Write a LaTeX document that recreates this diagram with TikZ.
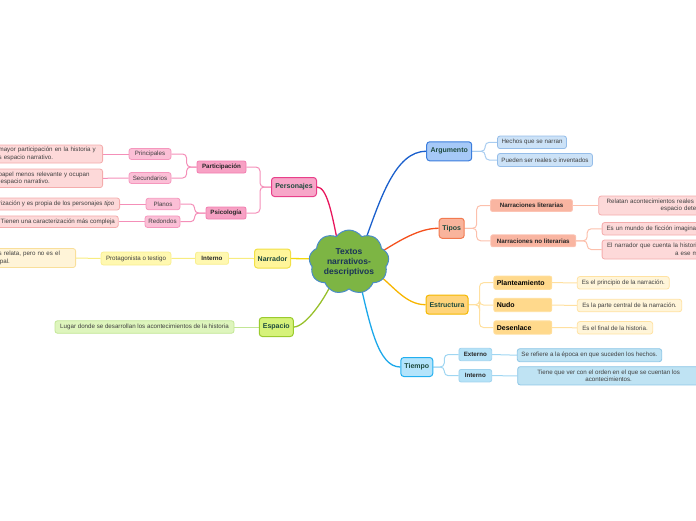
\documentclass[tikz,border=0pt]{standalone}
\usepackage{fontspec}
\setmainfont{Liberation Sans}
\usetikzlibrary{shapes.symbols,backgrounds}

% colours of the map
\definecolor{cloudfill}{HTML}{7DB544}
\definecolor{cloudedge}{HTML}{4A8CC8}
\definecolor{cloudtext}{HTML}{1A3358}
\definecolor{topictext}{HTML}{1D4A3D}
\definecolor{perfill}{HTML}{F7A6C8}
\definecolor{peredge}{HTML}{E8408A}
\definecolor{perline}{HTML}{E8175D}
\definecolor{pksub}{HTML}{F7A1C4}
\definecolor{pksubedge}{HTML}{F27DB0}
\definecolor{pkleaf}{HTML}{FBBFD6}
\definecolor{pkleafedge}{HTML}{F597BD}
\definecolor{pktwig}{HTML}{F48FB8}
\definecolor{pknote}{HTML}{FDD9D9}
\definecolor{pknoteedge}{HTML}{F4ACAC}
\definecolor{narfill}{HTML}{FFF59A}
\definecolor{naredge}{HTML}{F2E046}
\definecolor{narline}{HTML}{F2D80A}
\definecolor{amsub}{HTML}{FFF8B0}
\definecolor{amsubedge}{HTML}{F9EF90}
\definecolor{amtwig}{HTML}{F8EC80}
\definecolor{cream}{HTML}{FFF4D8}
\definecolor{creamedge}{HTML}{F9DF9A}
\definecolor{espfill}{HTML}{D6F27A}
\definecolor{espedge}{HTML}{9BCB2E}
\definecolor{espline}{HTML}{97C02A}
\definecolor{verdeleaf}{HTML}{DEF5BD}
\definecolor{verdeedge}{HTML}{C2E695}
\definecolor{argfill}{HTML}{A6C9F7}
\definecolor{argedge}{HTML}{3B7DDD}
\definecolor{argline}{HTML}{1A5FCC}
\definecolor{azleaf}{HTML}{CCE2F7}
\definecolor{azleafedge}{HTML}{95BDE9}
\definecolor{aztwig}{HTML}{A8CCF0}
\definecolor{tipfill}{HTML}{F9B49C}
\definecolor{tipedge}{HTML}{F27A50}
\definecolor{tipline}{HTML}{F4511E}
\definecolor{salsub}{HTML}{F9B5A1}
\definecolor{salsubedge}{HTML}{FCC4B4}
\definecolor{saltwig}{HTML}{FCC0AC}
\definecolor{estfill}{HTML}{FFD47A}
\definecolor{estedge}{HTML}{F4B800}
\definecolor{estline}{HTML}{F7B500}
\definecolor{orsub}{HTML}{FFD98C}
\definecolor{orsubedge}{HTML}{FFE0A0}
\definecolor{orleaf}{HTML}{FFF5D9}
\definecolor{orleafedge}{HTML}{FFE2A2}
\definecolor{ortwig}{HTML}{FFE0A0}
\definecolor{tiefill}{HTML}{B4E4FB}
\definecolor{tieedge}{HTML}{22AFF0}
\definecolor{tieline}{HTML}{1CA8EA}
\definecolor{cesub}{HTML}{B5E2F7}
\definecolor{cesubedge}{HTML}{9FD3EE}
\definecolor{celeaf}{HTML}{BFE3F3}
\definecolor{celeafedge}{HTML}{8DC6E6}
\definecolor{cetwig}{HTML}{9FD6F2}

\begin{document}
\begin{tikzpicture}[
    x=1pt, y=-1pt,
    topicbox/.style={rectangle, rounded corners=3pt, line width=1pt, font=\fontsize{7}{8}\selectfont\bfseries, text=topictext, minimum height=19pt, inner sep=1pt},
    subbox/.style={rectangle, rounded corners=2pt, line width=0.8pt, font=\fontsize{6.2}{7.5}\selectfont\bfseries, text=black!85, minimum height=12pt, inner sep=1pt},
    bigbox/.style={rectangle, rounded corners=2pt, line width=0.8pt, font=\fontsize{7}{8}\selectfont\bfseries, text=black, minimum height=13.3pt, text width=52pt, inner xsep=3pt, inner ysep=1pt, align=left},
    leafbox/.style={rectangle, rounded corners=2.5pt, line width=0.8pt, font=\fontsize{6.2}{7.5}\selectfont, text=black!75, minimum height=12pt, inner sep=1pt},
    notebox/.style={leafbox, inner xsep=3pt, align=left},
    mainlink/.style={line width=1.3pt},
    sublink/.style={line width=1pt, rounded corners=4pt}
]
    \useasboundingbox (0,0) rectangle (696,520);
    \clip (0,0) rectangle (696,520);

    % centre
    \node[cloud, cloud puffs=9, cloud puff arc=110, aspect=1.3, draw=cloudedge, fill=cloudfill, line width=1pt, minimum width=80pt, minimum height=64pt, inner sep=0pt, align=center, font=\fontsize{8.5}{10}\selectfont\bfseries, text=cloudtext] (centro) at (349,262) {Textos\\narrativos-\\descriptivos};
    \coordinate (c-pers) at (338,244);
    \coordinate (c-narr) at (318,259);
    \coordinate (c-esp) at (335,276);
    \coordinate (c-arg) at (364,244);
    \coordinate (c-tipos) at (378,254);
    \coordinate (c-estr) at (376,273);
    \coordinate (c-tiempo) at (359,278);

    % main topics
    \node[topicbox, fill=perfill, draw=peredge, minimum width=45pt] (pers) at (294,187) {Personajes};
    \node[topicbox, fill=narfill, draw=naredge, minimum width=36pt] (narr) at (272.5,258.5) {Narrador};
    \node[topicbox, fill=espfill, draw=espedge, minimum width=34pt] (esp) at (276.3,327) {Espacio};
    \node[topicbox, fill=argfill, draw=argedge, minimum width=45pt] (arg) at (449.2,151.3) {Argumento};
    \node[topicbox, fill=tipfill, draw=tipedge, minimum width=25pt, minimum height=20pt] (tipos) at (451.7,228.3) {Tipos};
    \node[topicbox, fill=estfill, draw=estedge, minimum width=42pt] (estr) at (447,304.7) {Estructura};
    \node[topicbox, fill=tiefill, draw=tieedge, minimum width=32pt] (tiempo) at (416.8,367) {Tiempo};

    % Personajes
    \node[subbox, fill=pksub, draw=pksubedge, minimum width=49pt] (partic) at (221.5,167) {Participación};
    \node[subbox, fill=pksub, draw=pksubedge, minimum width=40pt] (psico) at (226,213) {Psicología};
    \node[leafbox, fill=pkleaf, draw=pkleafedge, minimum width=42pt, minimum height=11pt] (princ) at (150,154) {Principales};
    \node[leafbox, fill=pkleaf, draw=pkleafedge, minimum width=42pt, minimum height=11pt] (secund) at (150,178) {Secundarios};
    \node[leafbox, fill=pkleaf, draw=pkleafedge, minimum width=34pt, minimum height=11.5pt] (planos) at (163,204) {Planos};
    \node[leafbox, fill=pkleaf, draw=pkleafedge, minimum width=35pt, minimum height=11.5pt] (redondos) at (162.5,221.7) {Redondos};
    \node[notebox, fill=pknote, draw=pknoteedge, anchor=east, text width=101pt, minimum height=18pt] (mayor) at (103,154) {mayor participación en la historia y\\s espacio narrativo.};
    \node[notebox, fill=pknote, draw=pknoteedge, anchor=east, text width=101pt, minimum height=18.5pt] (menor) at (103,178.3) {papel menos relevante y ocupan\\\hspace*{2pt}espacio narrativo.};
    \node[leafbox, fill=pknote, draw=pknoteedge, anchor=east, minimum width=126pt, minimum height=12pt] (tipo) at (120,204) {rización y es propia de los personajes \textit{tipo}};
    \node[leafbox, fill=pknote, draw=pknoteedge, anchor=east, minimum width=121pt, minimum height=11.5pt] (compleja) at (118.7,221.7) {Tienen una caracterización más compleja};

    % Narrador
    \node[subbox, fill=amsub, draw=amsubedge, minimum width=33pt] (interno) at (212,258.3) {Interno};
    \node[leafbox, fill=amsub, draw=amsubedge, minimum width=70pt, minimum height=13pt] (protag) at (136,258.5) {Protagonista o testigo};
    \node[notebox, fill=cream, draw=creamedge, anchor=east, text width=74pt, minimum height=19pt] (relata) at (76,258) {s relata, pero no es el\\ipal.};

    % Espacio
    \node[leafbox, fill=verdeleaf, draw=verdeedge, minimum width=179pt, minimum height=12.5pt] (lugar) at (144.5,327) {Lugar donde se desarrollan los acontecimientos de la historia};

    % Argumento
    \node[leafbox, fill=azleaf, draw=azleafedge, minimum width=69pt, minimum height=12.5pt] (hechos) at (532,142.3) {Hechos que se narran};
    \node[leafbox, fill=azleaf, draw=azleafedge, minimum width=95pt, minimum height=13pt] (pueden) at (545,160) {Pueden ser reales o inventados};

    % Tipos
    \node[subbox, fill=salsub, draw=salsubedge, minimum width=82pt] (lit) at (531.5,205.5) {Narraciones literarias};
    \node[subbox, fill=salsub, draw=salsubedge, minimum width=85pt] (nolit) at (533.3,240.8) {Narraciones no literarias};
    \node[notebox, fill=pknote, draw=pknoteedge, anchor=west, text width=120pt, inner xsep=8pt, minimum height=19pt] (relatan) at (598.3,205.5) {Relatan acontecimientos reales c\\\hspace*{54pt}espacio dete};
    \node[notebox, fill=pknote, draw=pknoteedge, anchor=west, text width=120pt, inner xsep=4.5pt, minimum height=12.5pt] (ficcion) at (601.7,228.8) {Es un mundo de ficción imaginac};
    \node[notebox, fill=pknote, draw=pknoteedge, anchor=west, text width=120pt, inner xsep=5pt, minimum height=19pt] (cuenta) at (601.7,249.5) {El narrador que cuenta la histori\\\hspace*{68pt}a ese m};

    % Estructura
    \node[bigbox, fill=orsub, draw=orsubedge] (plant) at (522.8,282.7) {Planteamiento};
    \node[bigbox, fill=orsub, draw=orsubedge] (nudo) at (522.8,305) {Nudo};
    \node[bigbox, fill=orsub, draw=orsubedge] (desen) at (522.8,327.5) {Desenlace};
    \node[leafbox, fill=orleaf, draw=orleafedge, minimum width=92pt, minimum height=12.5pt] (inicio) at (623.3,282.8) {Es el principio de la narración.};
    \node[leafbox, fill=orleaf, draw=orleafedge, minimum width=104.4pt, minimum height=12.5pt] (central) at (629.5,305.5) {Es la parte central de la narración.};
    \node[leafbox, fill=orleaf, draw=orleafedge, minimum width=75.4pt, minimum height=12.5pt] (final) at (615,327.8) {Es el final de la historia.};

    % Tiempo
    \node[subbox, fill=cesub, draw=cesubedge, minimum width=32.7pt, minimum height=12.4pt] (externo) at (475.3,354.5) {Externo};
    \node[subbox, fill=cesub, draw=cesubedge, minimum width=32.7pt, minimum height=12.4pt] (internot) at (475.3,375.7) {Interno};
    \node[leafbox, fill=celeaf, draw=celeafedge, minimum width=144.4pt, minimum height=13pt] (refiere) at (589.5,355.2) {Se refiere a la época en que suceden los hechos.};
    \node[leafbox, fill=celeaf, draw=celeafedge, anchor=west, align=center, minimum width=182pt, minimum height=18.3pt] (orden) at (517.3,375.8) {Tiene que ver con el orden en el que se cuentan los\\acontecimientos.};

    \begin{pgfonlayer}{background}
    % branches from the centre
    \draw[mainlink, perline] (pers.east) .. controls (327,187) and (332,214) .. (c-pers);
    \draw[mainlink, narline] (narr.east) -- (c-narr);
    \draw[mainlink, espline] (esp.east) .. controls (305,327) and (325,300) .. (c-esp);
    \draw[mainlink, argline] (arg.west) .. controls (395,151) and (380,200) .. (c-arg);
    \draw[mainlink, tipline] (tipos.west) .. controls (420,228) and (400,240) .. (c-tipos);
    \draw[mainlink, estline] (estr.west) .. controls (405,304.7) and (393,285) .. (c-estr);
    \draw[mainlink, tieline] (tiempo.west) .. controls (378,367) and (370,325) .. (c-tiempo);

    % Personajes
    \draw[sublink, pktwig] (pers.west) -- ++(-11,0) |- (partic.east);
    \draw[sublink, pktwig] (pers.west) -- ++(-11,0) |- (psico.east);
    \draw[sublink, pktwig] (partic.west) -- ++(-10,0) |- (princ.east);
    \draw[sublink, pktwig] (partic.west) -- ++(-10,0) |- (secund.east);
    \draw[sublink, pktwig] (psico.west) -- ++(-11,0) |- (planos.east);
    \draw[sublink, pktwig] (psico.west) -- ++(-11,0) |- (redondos.east);
    \draw[sublink, pktwig] (princ.west) -- (mayor.east);
    \draw[sublink, pktwig] (secund.west) -- (menor.east);
    \draw[sublink, pktwig] (planos.west) -- (tipo.east);
    \draw[sublink, pktwig] (redondos.west) -- (compleja.east);

    % Narrador and Espacio
    \draw[sublink, amtwig] (narr.west) -- (interno.east);
    \draw[sublink, amtwig] (interno.west) -- (protag.east);
    \draw[sublink, amtwig] (protag.west) -- (relata.east);
    \draw[sublink, verdeedge] (esp.west) -- (lugar.east);

    % Argumento and Tipos
    \draw[sublink, aztwig] (arg.east) -- ++(13,0) |- (hechos.west);
    \draw[sublink, aztwig] (arg.east) -- ++(13,0) |- (pueden.west);
    \draw[sublink, saltwig] (tipos.east) -- ++(12,0) |- (lit.west);
    \draw[sublink, saltwig] (tipos.east) -- ++(12,0) |- (nolit.west);
    \draw[sublink, saltwig] (lit.east) -- (relatan.west);
    \draw[sublink, saltwig] (nolit.east) -- ++(11,0) |- (ficcion.west);
    \draw[sublink, saltwig] (nolit.east) -- ++(11,0) |- (cuenta.west);

    % Estructura and Tiempo
    \foreach \part/\text in {plant/inicio, nudo/central, desen/final} {
        \draw[sublink, ortwig] (estr.east) -- ++(11,0) |- (\part.west);
        \draw[sublink, ortwig] (\part.east) -- (\text.west);
    }
    \draw[sublink, cetwig] (tiempo.east) -- ++(11,0) |- (externo.west);
    \draw[sublink, cetwig] (tiempo.east) -- ++(11,0) |- (internot.west);
    \draw[sublink, cetwig] (externo.east) -- (refiere.west);
    \draw[sublink, cetwig] (internot.east) -- (orden.west);
    \end{pgfonlayer}
\end{tikzpicture}
\end{document}
